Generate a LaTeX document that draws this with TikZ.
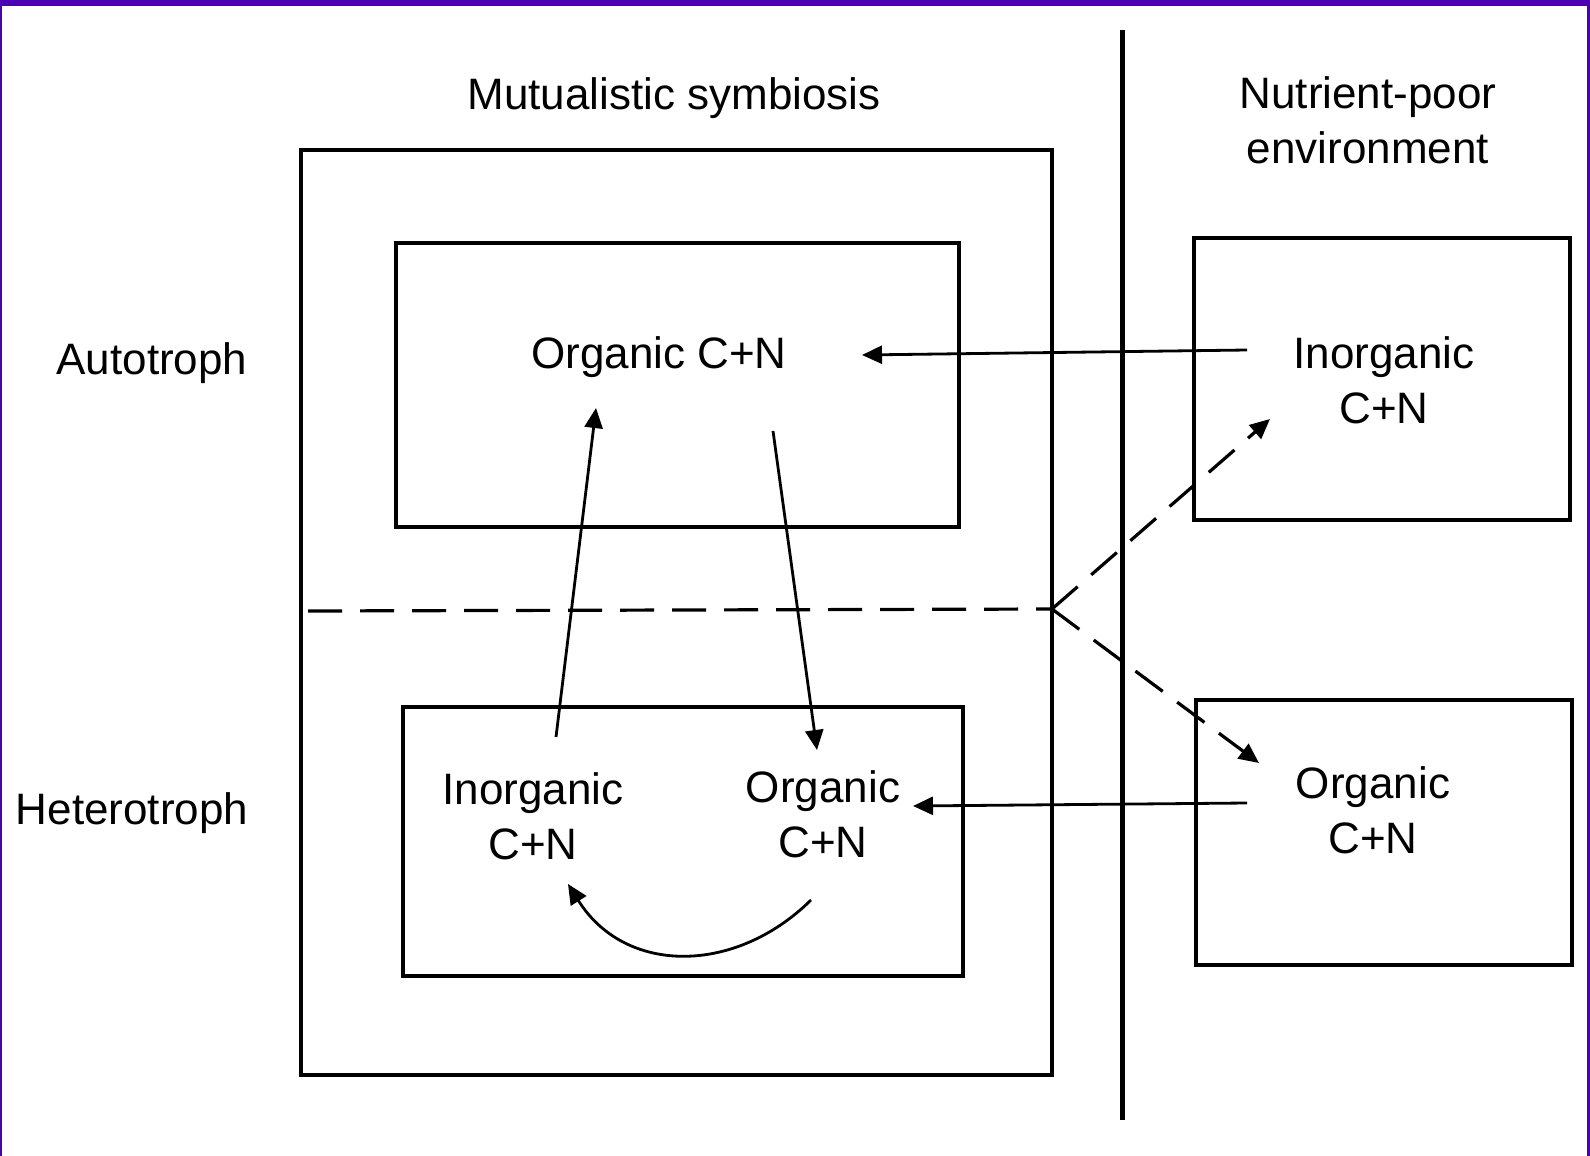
\documentclass[tikz,border=0pt]{standalone}
\usepackage{fontspec}
\setmainfont{Liberation Sans}
\usetikzlibrary{arrows.meta}
\definecolor{framecol}{RGB}{75,0,180}
\begin{document}
\begin{tikzpicture}[x=0.5pt,y=-0.5pt,
  box/.style={draw,line width=1.7pt,inner sep=0,outer sep=0},
  lbl/.style={font=\fontsize{22}{27.5}\selectfont,align=center,inner sep=0},
  tip/.style={-{Triangle[length=10pt,width=9pt]}},
  arr/.style={line width=1.4pt,tip},
  dsh/.style={line width=1.6pt,dash pattern=on 17pt off 9pt},
  dasharr/.style={dsh,tip}]
\useasboundingbox (0,0) rectangle (1590,1156);
% frame
\fill[framecol] (0,0) rectangle (1590,6);
\fill[framecol] (0,0) rectangle (2,1156);
\fill[framecol] (1587,0) rectangle (1590,1156);
% boxes
\node[box,minimum width=375.5pt,minimum height=462.5pt] (outer) at (676.5,612.5) {};
\node[box,minimum width=281.5pt,minimum height=142pt] (auto) at (677.5,385) {};
\node[box,minimum width=280pt,minimum height=134.5pt] (hetero) at (683,841.5) {};
\node[box,minimum width=188pt,minimum height=141pt] (envtop) at (1382,379) {};
\node[box,minimum width=188pt,minimum height=132.5pt] (envbot) at (1384,832.5) {};
% vertical divider
\coordinate (vtop) at (1122,30);
\coordinate (vbot) at (1122,1120);
\draw[line width=2.5pt] (vtop) -- (vbot);
% labels
\node[lbl] (title) at (674,98) {Mutualistic symbiosis};
\node[lbl] (env) at (1368,120) {Nutrient-poor\\environment};
\node[lbl] (autolbl) at (152,363) {Autotroph};
\node[lbl] (heterolbl) at (132,813) {Heterotroph};
\node[lbl] (orgA) at (659,357) {Organic C+N};
\node[lbl] (inorgE) at (1384,380) {Inorganic\\C+N};
\node[lbl] (inorgH) at (533,816) {Inorganic\\C+N};
\node[lbl] (orgH) at (823,814) {Organic\\C+N};
\node[lbl] (orgE) at (1373,810) {Organic\\C+N};
% arrow end points
\coordinate (a1s) at (1247,350); \coordinate (a1e) at (862,355);
\coordinate (a2s) at (556,737);  \coordinate (a2e) at (596,408);
\coordinate (a3s) at (773,431);  \coordinate (a3e) at (817,750);
\coordinate (a4s) at (811,900);  \coordinate (a4e) at (568,884);
\coordinate (a5s) at (1247,803); \coordinate (a5e) at (913,806);
\coordinate (dl) at (308,611);   \coordinate (J) at (1052,609);
\coordinate (d1e) at (1270,419); \coordinate (d2e) at (1259,763);
% arrows
\draw[arr] (a1s) -- (a1e);
\draw[arr] (a2s) -- (a2e);
\draw[arr] (a3s) -- (a3e);
\draw[arr] (a4s) .. controls (735,975) and (625,975) .. (a4e);
\draw[arr] (a5s) -- (a5e);
\draw[dsh] (dl) -- (J);
\draw[dasharr] (J) -- (d1e);
\draw[dasharr] (J) -- (d2e);
\end{tikzpicture}
\end{document}
